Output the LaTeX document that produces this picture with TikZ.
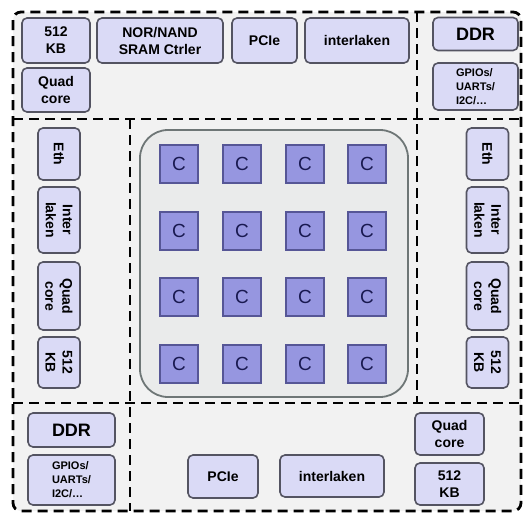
\documentclass[tikz,border=0pt]{standalone}
\usepackage{fontspec}
\setmainfont{Liberation Sans}
\definecolor{chipblue}{RGB}{218,218,246}
\definecolor{chiplight}{RGB}{236,236,252}
\definecolor{chipedge}{RGB}{84,84,98}
\definecolor{corefill}{RGB}{150,150,224}
\definecolor{coreedge}{RGB}{86,86,150}
\definecolor{coretext}{RGB}{25,25,80}
\definecolor{zonegray}{RGB}{242,242,242}
\definecolor{meshgray}{RGB}{234,235,235}
\definecolor{meshedge}{RGB}{110,118,118}

\begin{document}
\begin{tikzpicture}[x=1pt, y=-1pt,
		zone/.style={draw=black, line width=2.8pt, dash pattern=on 10pt off 6pt},
		chip/.style={draw=chipedge, fill=chipblue, line width=1.6pt, rounded corners=5pt,
			align=center, inner sep=1pt, font=\bfseries\fontsize{14}{17}\selectfont},
		vchip/.style={chip, rotate=-90, minimum height=42pt},
		core/.style={draw=coreedge, fill=corefill, line width=1.2pt, minimum size=38pt,
			text=coretext, font=\fontsize{19}{22}\selectfont}
	]
		\useasboundingbox (0,0) rectangle (525,514);
		\fill[zonegray, rounded corners=8pt] (13,12) rectangle (521,511);

		\draw[zone, rounded corners=8pt] (13,12) rectangle (521,511);
		\draw[zone] (13,119) -- (521,119);
		\draw[zone] (13,403) -- (521,403);
		\draw[zone] (417,12) -- (417,403);
		\draw[zone] (130,119) -- (130,511);

		\node[draw=meshedge, fill=meshgray, line width=1.8pt, rounded corners=28pt,
			minimum width=268pt, minimum height=267pt] (mesh) at (274,263.5) {};
		\foreach \col/\cx in {1/179,2/242,3/305,4/367}
			\foreach \row/\cy in {1/164,2/231,3/297,4/364}
				\node[core] (c\row\col) at (\cx,\cy) {C};

		\node[chip, minimum width=68pt, minimum height=45pt] (kbtop) at (56,40.5) {512\\KB};
		\node[chip, minimum width=126pt, minimum height=45pt] (norctrl) at (160,40.5) {NOR/NAND\\SRAM Ctrler};
		\node[chip, minimum width=65pt, minimum height=45pt] (pcietop) at (264.5,40.5) {PCIe};
		\node[chip, minimum width=104pt, minimum height=45pt] (ilktop) at (357,40.5) {interlaken};
		\node[chip, minimum width=68pt, minimum height=44pt] (quadtop) at (56,90) {Quad\\core};
		\node[chip, minimum width=85pt, minimum height=33pt, font=\bfseries\fontsize{18}{20}\selectfont] (ddrtop) at (475.5,34) {DDR};
		\node[chip, minimum width=85pt, minimum height=47pt, align=left, font=\bfseries\fontsize{11}{14}\selectfont] (gpiotop) at (475.5,86.5) {GPIOs/\\UARTs/\\I2C/\dots};

		\node[vchip, minimum width=52pt] (ethl) at (59,154) {Eth};
		\node[vchip, minimum width=66pt] (ilkl) at (59,220) {Inter\\laken};
		\node[vchip, minimum width=68pt] (quadl) at (59,296) {Quad\\core};
		\node[vchip, minimum width=51pt] (kbl) at (59,362.5) {512\\KB};

		\node[vchip, minimum width=52pt] (ethr) at (487.5,154) {Eth};
		\node[vchip, minimum width=66pt] (ilkr) at (487.5,220) {Inter\\laken};
		\node[vchip, minimum width=68pt] (quadr) at (487.5,296) {Quad\\core};
		\node[vchip, minimum width=51pt] (kbr) at (487.5,362.5) {512\\KB};

		\node[chip, minimum width=87pt, minimum height=34pt, font=\bfseries\fontsize{18}{20}\selectfont] (ddrbot) at (71.5,430) {DDR};
		\node[chip, minimum width=87pt, minimum height=50pt, align=left, font=\bfseries\fontsize{11}{14}\selectfont] (gpiobot) at (71.5,480) {GPIOs/\\UARTs/\\I2C/\dots};
		\node[chip, minimum width=70pt, minimum height=43pt] (pciebot) at (223,476.5) {PCIe};
		\node[chip, minimum width=104pt, minimum height=42pt] (ilkbot) at (332,476) {interlaken};
		\node[chip, minimum width=69pt, minimum height=42pt] (quadbot) at (449.5,434) {Quad\\core};
		\node[chip, minimum width=69pt, minimum height=42pt] (kbbot) at (449.5,484) {512\\KB};
	\end{tikzpicture}
\end{document}
